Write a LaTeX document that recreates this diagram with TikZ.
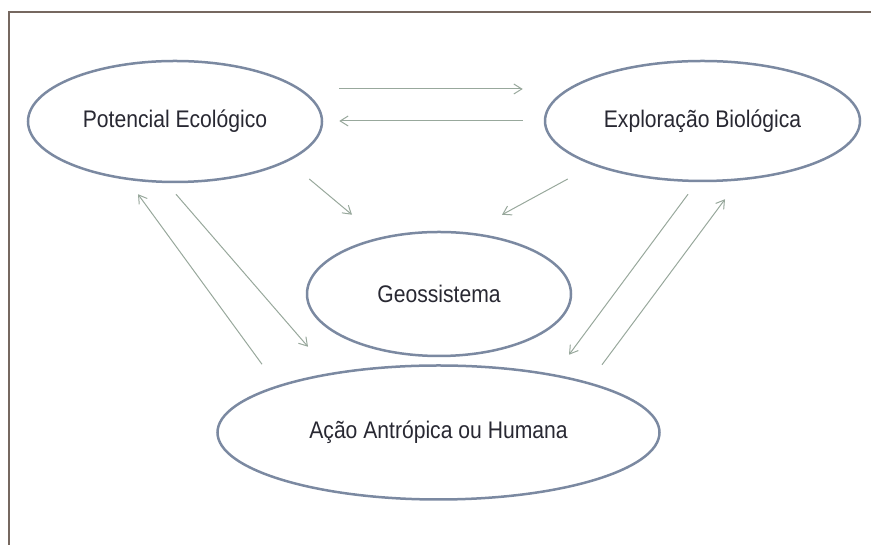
\documentclass[tikz,border=0pt]{standalone}
\usepackage{fontspec}
\setmainfont{Liberation Sans}[FakeStretch=0.88]
\usepackage{tikz}
\usetikzlibrary{shapes.geometric,arrows.meta,calc}
\definecolor{ringcol}{RGB}{123,137,161}
\definecolor{flowcol}{RGB}{152,168,156}
\definecolor{framecol}{RGB}{118,104,96}
\definecolor{txtcol}{RGB}{40,40,50}

\begin{document}
\begin{tikzpicture}[x=1pt,y=1pt,
font=\fontsize{24}{28}\selectfont,
ring/.style={ellipse, draw=ringcol, line width=2.5pt, inner sep=0pt, text=txtcol},
flow/.style={draw=flowcol, line width=1pt, -{Straight Barb[length=8pt,width=10pt]}}]
\useasboundingbox (0,0) rectangle (871,545);
\draw[framecol, line width=2pt] (9,0) -- (9,533) -- (871,533);
\node[ring, minimum width=294pt, minimum height=121pt] (pot) at (175,423.5) {Potencial Ecológico};
\node[ring, minimum width=315pt, minimum height=120pt] (expl) at (702.5,424) {Exploração Biológica};
\node[ring, minimum width=264pt, minimum height=124pt] (geo) at (439,251) {Geossistema};
\node[ring, minimum width=442pt, minimum height=134pt] (acao) at (438.5,112.5) {Ação Antrópica ou Humana};
% top pair
\draw[flow] ($(pot.east)+(16,32.5)$) -- ($(expl.west)+(-21,32)$);
\draw[flow] ($(expl.west)+(-21,0)$) -- ($(pot.east)+(16,0.5)$);
% into Geossistema
\draw[flow] ($(pot.east)+(-14,-57.5)$) -- ($(geo.north)+(-87,16)$);
\draw[flow] ($(expl.west)+(24,-58)$) -- ($(geo.north)+(63,16)$);
% left pair
\draw[flow] ($(acao.north)+(-176.5,0)$) -- ($(pot.south)+(-37,-11)$);
\draw[flow] ($(pot.south)+(1,-11)$) -- ($(acao.north)+(-130.5,17.5)$);
% right pair
\draw[flow] ($(expl.south)+(-14.5,-12)$) -- ($(acao.north)+(130.5,9.5)$);
\draw[flow] ($(acao.north)+(163.5,-0.5)$) -- ($(expl.south)+(22.5,-17)$);
\end{tikzpicture}
\end{document}
